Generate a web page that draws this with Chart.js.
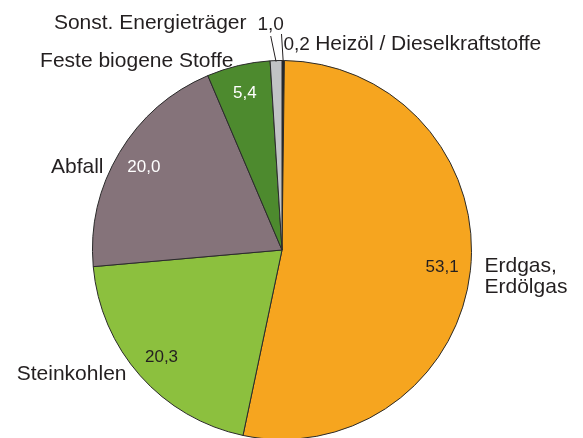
<!DOCTYPE html>
<html>
<head>
<meta charset="utf-8">
<script src="https://cdn.jsdelivr.net/npm/chart.js@4"></script>
<style>
  html, body { margin: 0; padding: 0; background: #fff; overflow: hidden; }
  #wrap { width: 583px; height: 442px; position: relative; }
</style>
</head>
<body>
<div id="wrap"><canvas id="pieChart"></canvas></div>
<script>
// ===== DATA =====
const categories = ['Heizöl / Dieselkraftstoffe', 'Erdgas,\nErdölgas', 'Steinkohlen', 'Abfall', 'Feste biogene Stoffe', 'Sonst. Energieträger'];
const shares = [0.2, 53.1, 20.3, 20.0, 5.4, 1.0];
const shareLabels = ['0,2', '53,1', '20,3', '20,0', '5,4', '1,0'];

// ===== STYLE =====
const sliceColors = ['#1f2933', '#f6a51f', '#8cc03e', '#85737a', '#4d8a2e', '#c1c3c5'];
const textColor = '#231f20';
const fontFamily = "'Liberation Sans', Arial, Helvetica, sans-serif";

// value label inside the slice, or outside with a leader line
const valueStyle = [
  { inside: false, dx: 1.5, dy: -200, align: 'left', size: 19 },
  { inside: true, color: textColor },
  { inside: true, color: textColor },
  { inside: true, color: '#ffffff' },
  { inside: true, color: '#ffffff' },
  { inside: false, dx: -24.5, dy: -220, align: 'left', size: 19 },
];
// name label anchors: offset from pie centre (text baseline)
const nameStyle = [
  { dx: 32, dy: -200, align: 'left' },
  { dx: 202.5, dy: 22, align: 'left' },
  { dx: -155.5, dy: 130, align: 'right' },
  { dx: -178.5, dy: -77, align: 'right' },
  { dx: -48.5, dy: -183, align: 'right' },
  { dx: -35.5, dy: -221, align: 'right' },
];

const labelPlugin = {
  id: 'pieLabels',
  afterDraw(chart) {
    const ctx = chart.ctx;
    const arcs = chart.getDatasetMeta(0).data;
    ctx.save();
    ctx.textBaseline = 'alphabetic';
    arcs.forEach((arc, i) => {
      const { x, y, startAngle, endAngle, outerRadius } = arc.getProps(['x', 'y', 'startAngle', 'endAngle', 'outerRadius'], true);
      const mid = (startAngle + endAngle) / 2;
      const vs = valueStyle[i];
      if (vs.inside) {
        ctx.font = `17px ${fontFamily}`;
        ctx.fillStyle = vs.color;
        ctx.textAlign = 'center';
        ctx.textBaseline = 'middle';
        const r = outerRadius * 0.85;
        ctx.fillText(shareLabels[i], x + Math.cos(mid) * r, y + Math.sin(mid) * r);
        ctx.textBaseline = 'alphabetic';
      } else {
        ctx.font = `${vs.size}px ${fontFamily}`;
        ctx.fillStyle = textColor;
        ctx.textAlign = vs.align;
        ctx.fillText(shareLabels[i], x + vs.dx, y + vs.dy);
        // leader line down to the slice edge
        const ex = x + Math.cos(mid) * outerRadius;
        const ey = y + Math.sin(mid) * outerRadius;
        const w = ctx.measureText(shareLabels[i]).width;
        const sx = i === 0 ? x + vs.dx - 2 : x + vs.dx + w / 2;
        const sy = i === 0 ? y + vs.dy - 16 : y + vs.dy + 6;
        ctx.strokeStyle = '#231f20';
        ctx.lineWidth = 1;
        ctx.beginPath();
        ctx.moveTo(sx, sy);
        ctx.lineTo(ex, ey + 1);
        ctx.stroke();
      }
      // names
      const ns = nameStyle[i];
      ctx.font = `21px ${fontFamily}`;
      ctx.fillStyle = textColor;
      ctx.textAlign = ns.align;
      categories[i].split('\n').forEach((line, k) => {
        let nx = x + ns.dx;
        if (i === 0) {
          ctx.font = `${vs.size}px ${fontFamily}`;
          const w = ctx.measureText(shareLabels[0] + ' ').width;
          ctx.font = `21px ${fontFamily}`;
          nx = x + vs.dx + w;
        }
        ctx.fillText(line, nx, y + ns.dy + k * 20.5);
      });
    });
    ctx.restore();
  }
};

new Chart(document.getElementById('pieChart').getContext('2d'), {
  type: 'pie',
  data: {
    labels: categories,
    datasets: [{
      data: shares,
      backgroundColor: sliceColors,
      borderColor: '#2a2a2a',
      borderWidth: 1,
    }]
  },
  options: {
    responsive: true,
    maintainAspectRatio: false,
    animation: false,
    layout: { padding: { top: 60, bottom: 2, left: 91.5, right: 110.5 } },
    plugins: {
      legend: { display: false },
      tooltip: { enabled: false }
    }
  },
  plugins: [labelPlugin]
});
</script>
</body>
</html>
